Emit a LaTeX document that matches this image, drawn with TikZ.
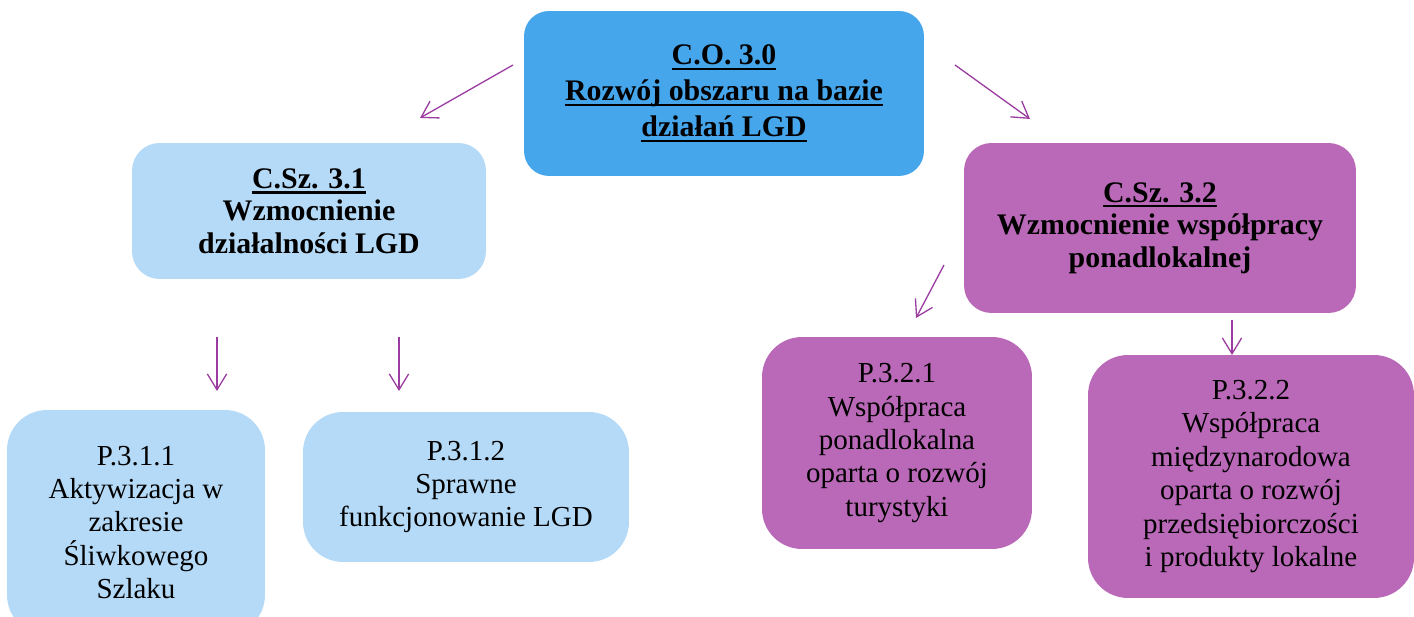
\documentclass[tikz,border=0pt]{standalone}
\usepackage{fontspec}
\setmainfont{Liberation Serif}
\usetikzlibrary{positioning,calc,arrows.meta}

\definecolor{goalblue}{HTML}{46A6EC}
\definecolor{paleblue}{HTML}{B5DAF7}
\definecolor{goalpurple}{HTML}{BA68B8}
\definecolor{linkpurple}{HTML}{9B3DA0}

\newcommand{\ulinetext}[1]{\setbox0\hbox{#1}\leavevmode\rlap{\rule[-3pt]{\wd0}{1.2pt}}\box0}

\begin{document}
\begin{tikzpicture}[
  x=0.02cm, y=-0.02cm,
  every node/.style={align=center, inner sep=0pt, text=black},
  main-goal/.style={fill=goalblue, rounded corners=0.5cm, font=\fontsize{17}{20.5}\selectfont\bfseries},
  sub-goal/.style={rounded corners=0.55cm, font=\fontsize{17}{18.5}\selectfont\bfseries},
  project/.style={rounded corners=0.8cm, font=\fontsize{16.5}{19}\selectfont},
  link-arrow/.style={draw=linkpurple, line width=0.75pt, -{Straight Barb[length=9pt,width=11pt]}},
  ]

  \useasboundingbox (0,0) rectangle (1414,617);

  \node [main-goal, minimum width=8cm, minimum height=3.3cm] (co30-box) at (724,93.5)
    {\ulinetext{C.O. 3.0}\\ \ulinetext{Rozwój obszaru na bazie}\\ \ulinetext{działań LGD}};

  \node [sub-goal, fill=paleblue, minimum width=7.08cm, minimum height=2.72cm] (csz31-box) at (309,211)
    {\ulinetext{C.Sz. 3.1}\\ Wzmocnienie\\ działalności LGD};
  \node [sub-goal, fill=goalpurple, minimum width=7.84cm, minimum height=3.4cm] (csz32-box) at (1160,228)
    {\ulinetext{C.Sz. 3.2}\\ Wzmocnienie współpracy\\ ponadlokalnej};

  \node [project, fill=paleblue, minimum width=5.16cm, minimum height=4.5cm] (p311-box) at (136,522.5)
    {P.3.1.1\\ Aktywizacja w\\ zakresie\\ Śliwkowego\\ Szlaku};
  \node [project, fill=paleblue, minimum width=6.52cm, minimum height=3.0cm] (p312-box) at (466,487)
    {P.3.1.2\\ Sprawne\\ funkcjonowanie LGD};
  \node [project, fill=goalpurple, minimum width=5.4cm, minimum height=4.24cm] (p321-box) at (897,443)
    {P.3.2.1\\ Współpraca\\ ponadlokalna\\ oparta o rozwój\\ turystyki};
  \node [project, fill=goalpurple, minimum width=6.52cm, minimum height=4.86cm] (p322-box) at (1251,476.5)
    {P.3.2.2\\ Współpraca\\ międzynarodowa\\ oparta o rozwój\\ przedsiębiorczości\\ i produkty lokalne};

  \coordinate (co30-left-tail) at (513,65);
  \coordinate (csz31-head) at (420,118);
  \coordinate (co30-right-tail) at (955,65);
  \coordinate (csz32-head) at (1030,119);
  \coordinate (p311-tail) at (217,337);
  \coordinate (p311-head) at (217,391);
  \coordinate (p312-tail) at (399,337);
  \coordinate (p312-head) at (399,391);
  \coordinate (p321-tail) at (944,265);
  \coordinate (p321-head) at (916,318);
  \coordinate (p322-tail) at (1232,320);
  \coordinate (p322-head) at (1232,355);

  \draw [link-arrow] (co30-left-tail) -- (csz31-head);
  \draw [link-arrow] (co30-right-tail) -- (csz32-head);
  \draw [link-arrow] (p311-tail) -- (p311-head);
  \draw [link-arrow] (p312-tail) -- (p312-head);
  \draw [link-arrow] (p321-tail) -- (p321-head);
  \draw [link-arrow] (p322-tail) -- (p322-head);

\end{tikzpicture}
\end{document}
